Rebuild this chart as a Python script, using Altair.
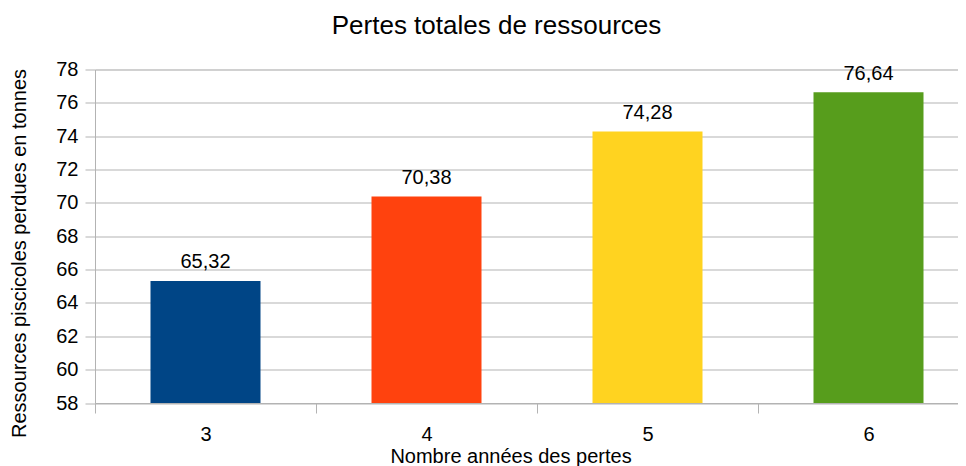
import altair as alt
import pandas as pd

# Data
annees = [3, 4, 5, 6]
pertes = [65.32, 70.38, 74.28, 76.64]
couleurs = ["#004586", "#ff420e", "#ffd320", "#579d1c"]
y_ticks = [58, 60, 62, 64, 66, 68, 70, 72, 74, 76, 78]

labels = [f"{v:.2f}".replace(".", ",") for v in pertes]
df = pd.DataFrame({"annee": annees, "perte": pertes, "label": labels, "couleur": couleurs})

# tick marks at the category boundaries, labels at the categories
x_values = sorted(annees + [a - 0.5 for a in annees])

W = 863
H = 333.5
FONT = "Liberation Sans"
GRID = "#b3b3b3"

x_enc = alt.X(
    "annee:Q",
    scale=alt.Scale(domain=[2.5, 2.5 + W / 221.0], nice=False, zero=False, padding=0),
    axis=alt.Axis(
        title="Nombre années des pertes",
        values=x_values,
        labelExpr="datum.value % 1 === 0 ? format(datum.value, 'd') : ''",
        labelOverlap=False,
        grid=False,
        domainColor=GRID,
        tickColor={"condition": {"test": "datum.value % 1 === 0", "value": "transparent"}, "value": GRID},
        tickSize=10,
        labelFontSize=20,
        labelFont=FONT,
        labelColor="#000000",
        labelBaseline="alphabetic",
        labelPadding=27,
        titleFontSize=20,
        titleFont=FONT,
        titleFontWeight="normal",
        titleColor="#000000",
        titleX=415.5,
        titleY=59,
        titleBaseline="alphabetic",
    ),
)

y_enc = alt.Y(
    "perte:Q",
    scale=alt.Scale(domain=[58, 78], nice=False, zero=False, padding=0),
    axis=alt.Axis(
        title="Ressources piscicoles perdues en tonnes",
        values=y_ticks,
        tickCount=len(y_ticks),
        labelOverlap=False,
        labelBound=False,
        grid=True,
        gridColor=GRID,
        domainColor=GRID,
        tickColor=GRID,
        tickSize=10,
        labelFontSize=20,
        labelFont=FONT,
        labelColor="#000000",
        labelPadding=7,
        titleFontSize=20,
        titleFont=FONT,
        titleFontWeight="normal",
        titleColor="#000000",
        titleAngle=270,
        titleX=-76,
        titleY=183.5,
        titleBaseline="middle",
        titleAlign="center",
    ),
)

bars = alt.Chart(df).mark_bar(size=110).encode(
    x=x_enc,
    y=y_enc,
    y2=alt.datum(58),
    color=alt.Color("couleur:N", scale=None, legend=None),
)

texts = alt.Chart(df).mark_text(
    font=FONT, fontSize=20, color="#000000", baseline="alphabetic", dy=-12.5
).encode(
    x=x_enc,
    y=y_enc,
    text="label:N",
)

chart = (
    alt.layer(bars, texts)
    .properties(
        width=W,
        height=H,
        title=alt.TitleParams(
            "Pertes totales de ressources",
            font=FONT,
            fontSize=26,
            fontWeight="normal",
            color="#000000",
            anchor="middle",
            dx=-30,
            baseline="alphabetic",
            offset=0,
        ),
        autosize=alt.AutoSizeParams(type="none"),
        padding={"left": 87, "top": 61.5, "right": 0, "bottom": 63},
    )
    .configure_view(stroke=None)
    .configure(background="white")
)

chart.save("out.html", embed_options={"renderer": "svg", "actions": False})
